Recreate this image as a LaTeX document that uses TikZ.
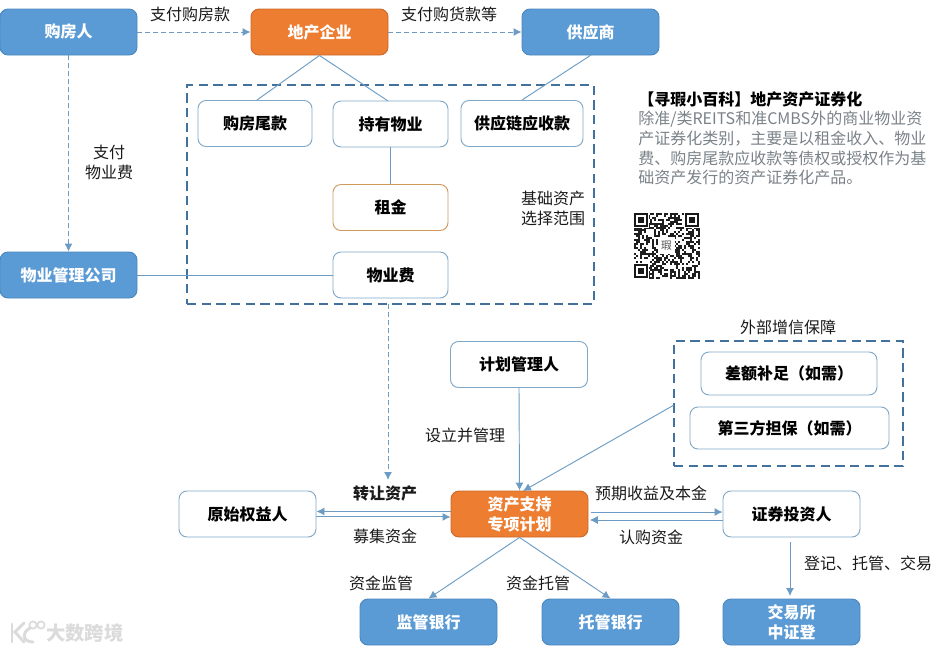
\documentclass[tikz,border=0pt]{standalone}
\usepackage{fontspec}
\setmainfont{Noto Sans CJK SC}
\usetikzlibrary{arrows.meta}
\definecolor{cblue}{HTML}{5B9BD5}
\definecolor{cblued}{HTML}{4A86BE}
\definecolor{corange}{HTML}{ED7D31}
\definecolor{crent}{HTML}{D09A5E}
\definecolor{cline}{HTML}{6C9CC4}
\definecolor{cedge}{HTML}{7FA8C9}
\definecolor{cdash}{HTML}{41719C}
\definecolor{ctext}{HTML}{1A1A1A}
\definecolor{cgray}{HTML}{7A8288}
\tikzset{
  base/.style={rounded corners=6pt,inner sep=0pt,align=center,font=\fontsize{12}{15}\selectfont\bfseries,minimum height=34.5pt,line width=0.7pt},
  wide/.style={minimum width=102.75pt},
  bluebox/.style={base,wide,fill=cblue,draw=cblued,text=white},
  orangebox/.style={base,wide,fill=corange,draw=corange!85!black,text=white},
  whitebox/.style={base,draw=cedge,text=black,fill=white},
  dashbox/.style={draw=cdash,line width=1.3pt,dash pattern=on 7pt off 4pt,inner sep=0pt},
  lbl/.style={font=\fontsize{12}{15}\selectfont,text=ctext,inner sep=0pt,align=center},
  para/.style={anchor=west,font=\fontsize{12}{15}\selectfont,text=cgray,inner sep=0pt},
  conn/.style={draw=cline,line width=0.7pt},
  arrow/.style={conn,-{Latex[length=6pt,width=6pt]}},
  darrow/.style={arrow,dash pattern=on 3.5pt off 2.5pt},
  wm/.style={text=black!14,inner sep=0pt,font=\fontsize{14.5}{15}\selectfont\bfseries}
}
\begin{document}
\begin{tikzpicture}[x=0.75pt,y=-0.75pt]
\useasboundingbox (0,0) rectangle (945,651);
% dashed regions
\node[dashbox,minimum width=305.25pt,minimum height=164.25pt] (basebox) at (390.5,194.5) {};
\node[dashbox,minimum width=171.75pt,minimum height=93.75pt] (creditbox) at (788.5,403.5) {};
% top row
\node[bluebox] (buyer) at (68.5,32) {购房人};
\node[orangebox] (dev) at (319.5,32) {地产企业};
\node[bluebox] (sup) at (590.5,32) {供应商};
% base assets
\node[whitebox,minimum width=85.5pt] (tail) at (255,123.5) {购房尾款};
\node[whitebox,minimum width=86.25pt] (hold) at (390.5,124) {持有物业};
\node[whitebox,minimum width=91.5pt] (chain) at (522,123.5) {供应链应收款};
\node[whitebox,minimum width=86.25pt,draw=crent] (rent) at (390.5,207.5) {租金};
\node[whitebox,minimum width=86.25pt] (fee) at (390.5,275) {物业费};
\node[bluebox] (pm) at (68.5,275) {物业管理公司};
% lower part
\node[whitebox,wide] (mgr) at (519,364.5) {计划管理人};
\node[whitebox,minimum width=132pt,minimum height=32.25pt] (gap) at (789,373.5) {差额补足（如需）};
\node[whitebox,minimum width=149.25pt,minimum height=31.5pt] (guar) at (789.5,428) {第三方担保（如需）};
\node[orangebox] (abs) at (519.5,514) {资产支持\\专项计划};
\node[whitebox,wide] (orig) at (247.5,514) {原始权益人};
\node[whitebox,wide] (inv) at (791.5,514) {证券投资人};
\node[bluebox] (sup1) at (428.5,622) {监管银行};
\node[bluebox] (sup2) at (610.5,622) {托管银行};
\node[bluebox] (exch) at (791.5,622) {交易所\\中证登};
% free-end coordinates
\coordinate (feeA) at (388,304);
\coordinate (feeB) at (388,480);
\coordinate (creditW) at (674,405);
\coordinate (absN) at (523,491);
\coordinate (invS) at (790,542);
\coordinate (exchN) at (790,596);
\coordinate (chainN) at (522,100);
\coordinate (supS) at (591,55);
\coordinate (tailN) at (257,100);
\coordinate (holdN) at (388,101);
% connectors
\draw[darrow] (buyer.east) -- (dev.west);
\draw[darrow] (dev.east) -- (sup.west);
\draw[darrow] (buyer.south) -- (pm.north);
\draw[conn] (dev.south) -- (tailN);
\draw[conn] (dev.south) -- (holdN);
\draw[conn] (supS) -- (chainN);
\draw[conn] (hold.south) -- (rent.north);
\draw[conn] (pm.east) -- (fee.west);
\draw[darrow] (feeA) -- (feeB);
\draw[arrow] (mgr.south) -- (abs.north);
\draw[arrow] (creditW) -- (absN);
\draw[arrow] ([yshift=1.9pt]abs.west) -- ([yshift=1.9pt]orig.east);
\draw[arrow] ([yshift=-2.2pt]orig.east) -- ([yshift=-2.2pt]abs.west);
\draw[arrow] ([yshift=1.5pt,xshift=2pt]abs.east) -- ([yshift=1.5pt]inv.west);
\draw[arrow] ([yshift=-4.5pt]inv.west) -- ([yshift=-4.5pt,xshift=1pt]abs.east);
\draw[arrow] (abs.south) -- (sup1.north);
\draw[arrow] (abs.south) -- (sup2.north);
\draw[arrow] (invS) -- (exchN);
% labels
\node[lbl] (l1) at (190,14) {支付购房款};
\node[lbl] (l2) at (449,14) {支付购货款等};
\node[lbl] (l3) at (109,162) {支付\\物业费};
\node[lbl] (l4) at (553,208) {基础资产\\选择范围};
\node[lbl] (l5) at (788,327) {外部增信保障};
\node[lbl] (l6) at (465,435) {设立并管理};
\node[lbl,font=\fontsize{12}{15}\selectfont\bfseries] (l7) at (385,493) {转让资产};
\node[lbl] (l8) at (385,536) {募集资金};
\node[lbl] (l9) at (651,493) {预期收益及本金};
\node[lbl] (l10) at (651,537) {认购资金};
\node[lbl] (l11) at (381,583) {资金监管};
\node[lbl] (l12) at (538,583) {资金托管};
\node[lbl] (l13) at (868,563) {登记、托管、交易};
% info text
\node[para,text=black,font=\fontsize{12}{15}\selectfont\bfseries] (h) at (638,99) {【寻瑕小百科】地产资产证券化};
\node[para] (p1) at (638,119) {除准/类REITS和准CMBS外的商业物业资};
\node[para] (p2) at (638,139) {产证券化类别，主要是以租金收入、物业};
\node[para] (p3) at (638,158) {费、购房尾款应收款等债权或授权作为基};
\node[para] (p4) at (638,177) {础资产发行的资产证券化产品。};
% QR code
\begin{scope}[shift={(634,213)}]
  \pgfmathsetseed{12}
  \foreach \i in {0,...,32}{\foreach \j in {0,...,32}{
    \pgfmathrandominteger{\q}{0}{99}
    \ifnum\q<52
      \fill[black!88] (\i*2,\j*2) rectangle ++(2,2);
    \fi
  }}
  \foreach \cx/\cy in {0/0,51/0,0/51}{
    \fill[white] (\cx-1,\cy-1) rectangle ++(16,16);
    \fill[black!90] (\cx,\cy) rectangle ++(14,14);
    \fill[white] (\cx+2,\cy+2) rectangle ++(10,10);
    \fill[black!90] (\cx+4,\cy+4) rectangle ++(6,6);
  }
  \fill[white] (24,24) rectangle (41,41);
  \node[inner sep=0pt,font=\fontsize{8}{8}\selectfont,text=black!70] (qrc) at (32.5,32.5) {瑕};
\end{scope}
% watermark
\node[wm,anchor=west] (wmt) at (46,633) {大数跨境};
\draw[black!14,line width=2.2pt,line cap=round] (12,624) -- (12,642);
\draw[black!14,line width=2.2pt,line cap=round] (24,623) -- (15,632) -- (24,642);
\draw[black!14,line width=2.2pt,line cap=round] (30,628) .. controls (22,632) and (22,642) .. (33,642);
\draw[black!14,line width=1.3pt] (33,625) circle (3.6);
\draw[black!14,line width=1.3pt] (41,625) circle (3.6);
\end{tikzpicture}
\end{document}
